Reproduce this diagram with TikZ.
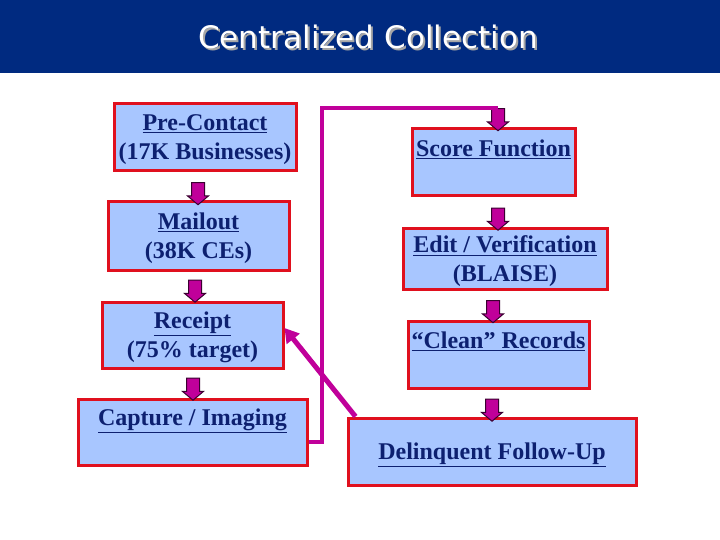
\documentclass[tikz,border=0pt]{standalone}
\usepackage{fontspec}
\setmainfont{Liberation Serif}
\newfontfamily\titlefont{DejaVu Sans}
\usetikzlibrary{shapes.arrows,arrows.meta,positioning,calc}
\definecolor{TitleNavy}{HTML}{002A80}
\definecolor{TextNavy}{HTML}{0D2070}
\definecolor{BoxBlue}{HTML}{A8C6FF}
\definecolor{BoxRed}{HTML}{E0101E}
\definecolor{FlowMagenta}{HTML}{C0009A}
\definecolor{ArrowEdge}{HTML}{3A0030}

\begin{document}
\begin{tikzpicture}[
    x=1pt, y=-1pt,
    stepbox/.style={draw=BoxRed, fill=BoxBlue, line width=3pt, align=center, inner sep=0pt, text depth=0pt, text=TextNavy, font=\fontsize{24}{29}\selectfont\bfseries},
    downarrow/.style={single arrow, shape border rotate=270, draw=ArrowEdge, fill=FlowMagenta, line width=1pt, inner sep=6pt, minimum height=22pt, single arrow head extend=4pt, single arrow tip angle=100},
    feedline/.style={draw=FlowMagenta, line width=4pt}
]

  % Fundo e faixa de titulo
  \useasboundingbox[fill=white] (0,0) rectangle (720,540);
  \fill[TitleNavy] (0,0) rectangle (720,73);
  \node[font=\titlefont\fontsize{31}{36}\selectfont, text=white] (title) at (368,38)
    {\rlap{\hspace{2pt}\raisebox{-2pt}{\color{gray!70}Centralized Collection}}Centralized Collection};

  % =========================================================================
  % COLUNA ESQUERDA
  % =========================================================================
  \node[stepbox, minimum width=182, minimum height=67] (pre) at (205,137.5) {\underline{Pre-Contact}\\(17K Businesses)};
  \node[stepbox, minimum width=181, minimum height=68] (mail) at (198.5,236) {\underline{Mailout}\\(38K CEs)};
  \node[stepbox, minimum width=181, minimum height=66] (rcpt) at (192.5,335) {\underline{Receipt}\\(75\% target)};
  \node[stepbox, minimum width=229, minimum height=66] (capt) at (192.5,432) {\underline{Capture / Imaging}\\ \strut};

  \node[downarrow] (a1) at (198,191) {};
  \node[downarrow] (a2) at (195,288.5) {};
  \node[downarrow] (a3) at (193,386.5) {};

  % =========================================================================
  % COLUNA DIREITA
  % =========================================================================
  \node[stepbox, minimum width=163, minimum height=67] (score) at (493.5,162.5) {\underline{Score Function}\\ \strut};
  \node[stepbox, minimum width=204, minimum height=60] (edit) at (505,259) {\underline{Edit / Verification}\\(BLAISE)};
  \node[stepbox, minimum width=181, minimum height=67] (clean) at (498.5,354.5) {\underline{``Clean''~Records}\\ \strut};
  \node[stepbox, minimum width=288, minimum height=67] (delq) at (492,451.5) {\underline{Delinquent Follow-Up}};

  \node[downarrow] (a0) at (498,117) {};
  \node[downarrow] (a4) at (498,216.5) {};
  \node[downarrow] (a5) at (493,309) {};
  \node[downarrow] (a6) at (492,407.5) {};

  % Ligacoes
  \draw[feedline] ([yshift=-10pt]capt.east) -- ++(13,0) |- (a0.north);
  \draw[feedline, line width=5pt, -{Triangle[length=14pt,width=16pt]}] ([xshift=9pt]delq.north west) -- ([yshift=7pt]rcpt.east);

\end{tikzpicture}
\end{document}
